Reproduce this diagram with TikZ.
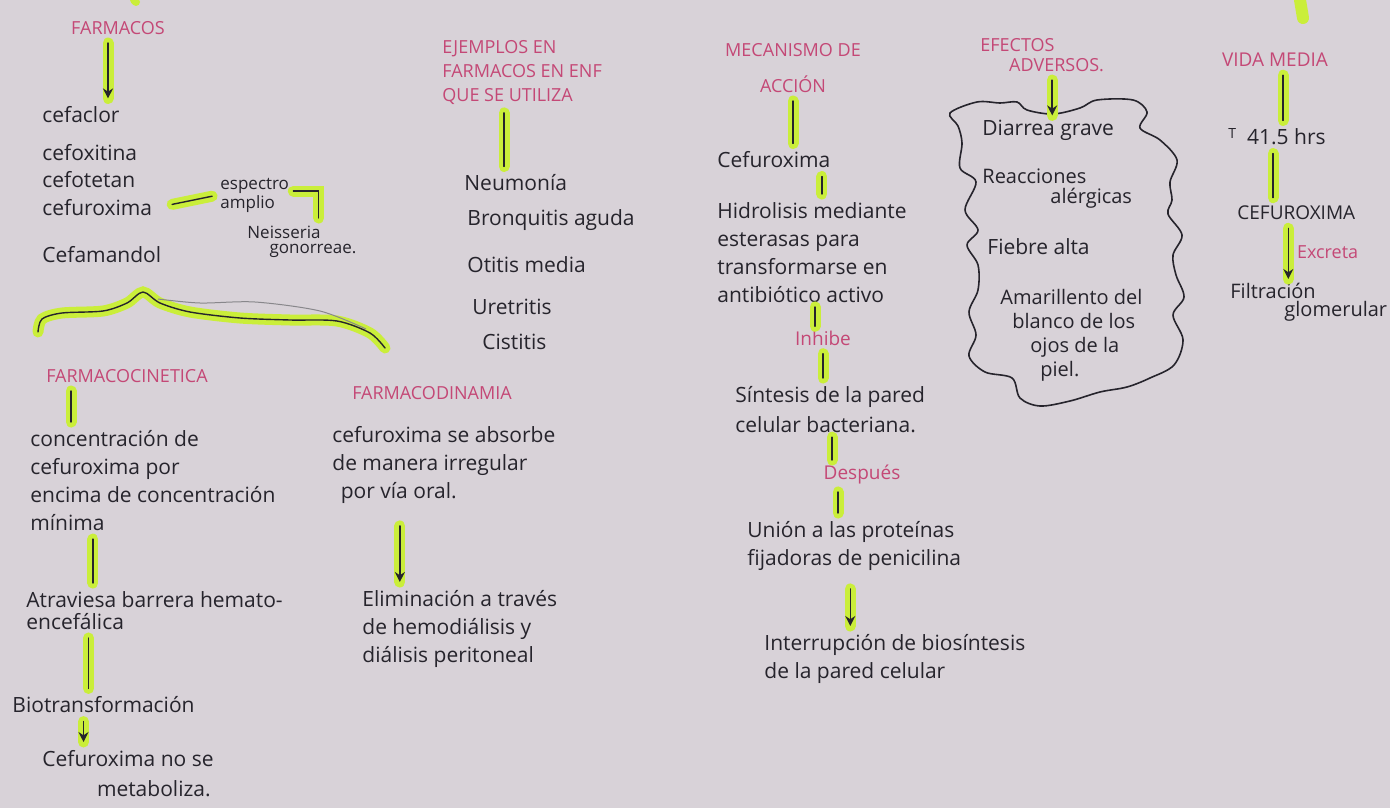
\documentclass[tikz,border=0pt]{standalone}
\usepackage{fontspec}
\setmainfont{Open Sans}
\usepackage{tikz}
\usetikzlibrary{arrows.meta}
\definecolor{paper}{RGB}{216,210,216}
\definecolor{ink}{RGB}{38,36,44}
\definecolor{pinkhead}{RGB}{196,72,118}
\definecolor{marker}{RGB}{202,238,58}

\begin{document}
\begin{tikzpicture}[x=0.5pt, y=-0.5pt, >={Stealth[length=5pt, width=5pt]},
	head/.style={text=pinkhead, font=\fontsize{9}{12}\selectfont, inner sep=1pt, align=left},
	txt/.style={text=ink, font=\fontsize{10.5}{14}\selectfont, inner sep=1pt, align=left},
	note/.style={text=ink, font=\fontsize{8.5}{7.5}\selectfont, inner sep=1pt, align=left},
	bar/.style={draw=ink, line width=0.7pt, line cap=round, shorten <=3pt, shorten >=3pt,
		preaction={draw=marker, line width=5.5pt, line cap=round, arrows=-}}]
	\fill[paper] (0,0) rectangle (1390,808);
	\useasboundingbox (0,0) rectangle (1390,808);
	% trazos que vienen de arriba
	\draw[marker, line width=6pt, line cap=round] (1300,0) -- (1303,18);
	\draw[marker, line width=4pt, line cap=round] (134,0) -- (136,2);

	% farmacos
	\node[head] (farmacos) at (118,28) {FARMACOS};
	\foreach \nm/\yy/\tx in {cefaclor/115/cefaclor, cefoxitina/153/cefoxitina, cefotetan/180/cefotetan, cefuroxima/208/cefuroxima, cefamandol/255/Cefamandol}
		\node[txt, anchor=west] (\nm) at (40,\yy) {\tx};
	\draw[bar, ->] ([xshift=-5pt]farmacos.south) -- ([xshift=-5pt]farmacos.south |- cefaclor.north);
	\node[note, anchor=west] (espectro) at (218,195) {espectro\\amplio};
	\draw[bar, shorten <=9pt] (cefuroxima.east) -- (espectro.west);
	\node[note, anchor=north west] (neisseria) at (245,224) {Neisseria\\\hspace{1.3em}gonorreae.};
	\draw[bar, shorten <=1pt] ([yshift=2pt]espectro.east) -| ([xshift=-20pt]neisseria.north east);

	% llave
	\draw[bar, shorten <=0pt, shorten >=0pt, line join=round] plot[smooth, tension=0.5] coordinates {(38,332) (42,319) (62,313) (103,311) (127,303) (143,292) (160,303) (190,312) (240,318) (290,320) (337,321) (370,333) (385,348)};
	\draw[ink!55, line width=0.5pt] plot[smooth, tension=0.5] coordinates {(158,299) (200,303) (255,302) (320,311) (366,329)};

	% farmacocinetica
	\node[head] (cinetica) at (127,376) {FARMACOCINETICA};
	\node[txt, anchor=north west] (conc) at (28,428) {concentración de\\cefuroxima por\\encima de concentración\\mínima};
	\node[txt, anchor=north west] (atrav) at (24,589) {Atraviesa barrera hemato-\\[-3pt]encefálica};
	\node[txt, anchor=west] (biotrans) at (10,705) {Biotransformación};
	\node[txt, anchor=north west] (nometab) at (40,748) {Cefuroxima no se\\[1pt]\hspace{2.6em}metaboliza.};
	\draw[bar] ([xshift=-28pt]cinetica.south) -- ([xshift=-28pt]cinetica.south |- conc.north);
	\draw[bar] ([xshift=-30pt]conc.south) -- ([xshift=-30pt]conc.south |- atrav.north);
	\draw[bar] ([xshift=-33pt]atrav.south) -- ([xshift=-33pt]atrav.south |- biotrans.north);
	\draw[bar, ->] ([xshift=-10pt]biotrans.south) -- ([xshift=-10pt]biotrans.south |- nometab.north);

	% farmacodinamia
	\node[head] (dinamia) at (432,393) {FARMACODINAMIA};
	\node[txt, anchor=north west] (absorbe) at (330,424) {cefuroxima se absorbe\\de manera irregular\\\hspace{0.4em}por vía oral.};
	\node[txt, anchor=north west] (elimina) at (360,588) {Eliminación a través\\de hemodiálisis y\\diálisis peritoneal};
	\draw[bar, ->, shorten <=10pt] ([xshift=-22pt]absorbe.south) -- ([xshift=-22pt]absorbe.south |- elimina.north);

	% ejemplos
	\node[head, anchor=north west] (ejemplos) at (440,38) {EJEMPLOS EN\\FARMACOS EN ENF\\QUE SE UTILIZA};
	\foreach \nm/\xx/\yy/\tx in {neumonia/462/183/Neumonía, bronquitis/465/220/Bronquitis aguda, otitis/465/265/Otitis media, uretritis/470/307/Uretritis, cistitis/480/342/Cistitis}
		\node[txt, anchor=west] (\nm) at (\xx,\yy) {\tx};
	\draw[bar] ([xshift=-9pt]ejemplos.south) -- ([xshift=-9pt]ejemplos.south |- neumonia.north);

	% mecanismo de accion
	\node[head, align=center] (mecanismo) at (793,68) {MECANISMO DE\\[6pt]ACCIÓN};
	\node[txt, anchor=west] (mcefuroxima) at (715,160) {Cefuroxima};
	\node[txt, anchor=north west] (hidro) at (715,200) {Hidrolisis mediante\\esterasas para\\transformarse en\\antibiótico activo};
	\node[head, font=\fontsize{9.5}{12}\selectfont] (inhibe) at (823,338) {Inhibe};
	\node[txt, anchor=north west] (sintesis) at (733,384) {Síntesis de la pared\\[1pt]celular bacteriana.};
	\node[head, font=\fontsize{9.5}{12}\selectfont] (despues) at (862,474) {Después};
	\node[txt, anchor=north west] (union) at (745,519) {Unión a las proteínas\\fijadoras de penicilina};
	\node[txt, anchor=north west] (interrup) at (762,632) {Interrupción de biosíntesis\\de la pared celular};
	\draw[bar] (mecanismo.south) -- (mecanismo.south |- mcefuroxima.north);
	\draw[bar] ([xshift=24pt]mcefuroxima.south) -- ([xshift=24pt]mcefuroxima.south |- hidro.north);
	\draw[bar, shorten <=1pt, shorten >=1pt] ([xshift=-4pt]inhibe.north) -- ([xshift=-4pt]inhibe.north |- hidro.south);
	\draw[bar] (inhibe.south) -- (inhibe.south |- sintesis.north);
	\draw[bar, shorten <=1pt, shorten >=1pt] ([xshift=-15pt]despues.north) -- ([xshift=-15pt]despues.north |- sintesis.south);
	\draw[bar] ([xshift=-12pt]despues.south) -- ([xshift=-12pt]despues.south |- union.north);
	\draw[bar, ->, shorten <=8pt] ([xshift=-2pt]union.south) -- ([xshift=-2pt]union.south |- interrup.north);

	% efectos adversos
	\node[head, anchor=north west] (efectos) at (978,36) {EFECTOS\\[-2pt]\hspace{1.6em}ADVERSOS.};
	\draw[ink, line width=0.8pt] plot[smooth cycle, tension=0.55] coordinates {
		(950,113) (977,102) (1000,103) (1017,102) (1027,110) (1053,114) (1080,108) (1097,100)
		(1133,100) (1147,112) (1140,128) (1160,140) (1177,160) (1170,182) (1172,200) (1168,214)
		(1182,235) (1173,255) (1176,275) (1184,297) (1173,315) (1183,340) (1174,365) (1150,378)
		(1127,387) (1100,392) (1070,401) (1040,406) (1020,398) (1012,378) (985,372) (969,356)
		(976,335) (969,312) (978,290) (978,265) (967,245) (978,230) (965,210) (976,182)
		(960,168) (962,143) (958,126)};
	\node[txt, anchor=west] (diarrea) at (980,130) {Diarrea grave};
	\node[txt, anchor=north west, font=\fontsize{10}{10}\selectfont] (reacc) at (980,166) {Reacciones\\\hspace{3.4em}alérgicas};
	\node[txt, anchor=west] (fiebre) at (985,247) {Fiebre alta};
	\node[txt, anchor=north west, font=\fontsize{10}{12}\selectfont] (amarillo) at (998,287) {Amarillento del\\\hspace{0.6em}blanco de los\\\hspace{1.5em}ojos de la\\\hspace{2em}piel.};
	\draw[bar, ->, shorten >=1pt] ([xshift=5pt]efectos.south) -- ([xshift=5pt]efectos.south |- diarrea.north);

	% vida media
	\node[head, font=\fontsize{9.5}{12}\selectfont] (vida) at (1275,60) {VIDA MEDIA};
	\node[txt, anchor=west] (tmedia) at (1226,137) {\raisebox{3pt}{\fontsize{7}{7}\selectfont T}\ \ 41.5 hrs};
	\node[txt, anchor=west, font=\fontsize{9.5}{12}\selectfont] (vcefuroxima) at (1235,213) {CEFUROXIMA};
	\node[txt, anchor=north west, font=\fontsize{10}{9}\selectfont] (filtra) at (1228,281) {Filtración\\\hspace{2.7em}glomerular};
	\draw[bar] ([xshift=4pt]vida.south) -- ([xshift=4pt]vida.south |- tmedia.north);
	\draw[bar] ([xshift=-2pt]tmedia.south) -- ([xshift=-2pt]tmedia.south |- vcefuroxima.north);
	\draw[bar, ->, shorten >=1pt] ([xshift=-4pt]vcefuroxima.south) -- ([xshift=-4pt]vcefuroxima.south |- filtra.north)
		node[head, midway, anchor=west, xshift=3pt] (excreta) {Excreta};
\end{tikzpicture}
\end{document}
